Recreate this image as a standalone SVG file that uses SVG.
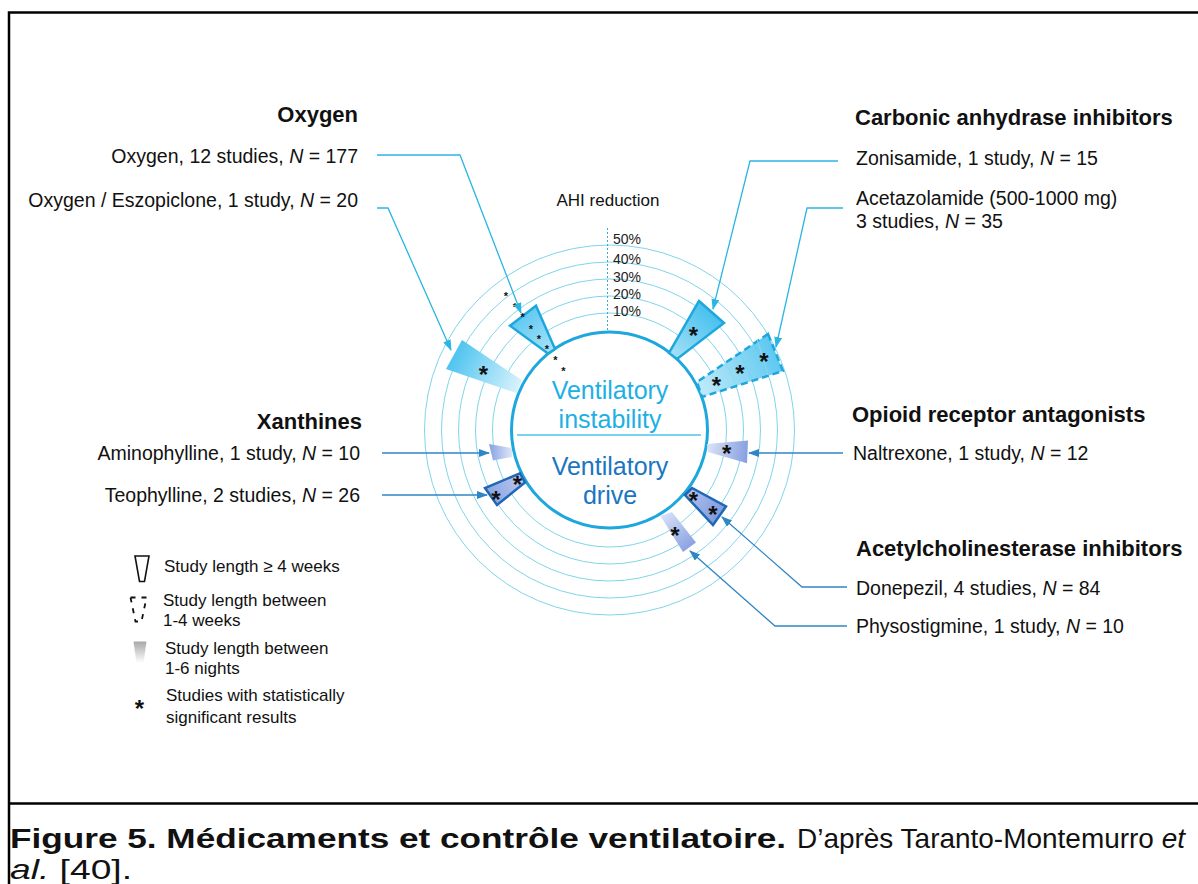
<svg xmlns="http://www.w3.org/2000/svg" width="1198" height="884" viewBox="0 0 1198 884">
<style>
text{font-family:"Liberation Sans",Arial,sans-serif;fill:#111}
.hd{font-size:22px;font-weight:bold}
.lb{font-size:19.5px}
.lg{font-size:17px}
.pc{font-size:14px;fill:#222}
.st{font-size:24px;font-weight:bold;text-anchor:middle}
.ts{font-size:11px;font-weight:bold;text-anchor:middle}
.ring{fill:none;stroke:#7fd5ec;stroke-width:1}
.cy{fill:none;stroke:#2bb5e2;stroke-width:1.3}
.bl{fill:none;stroke:#2f86c4;stroke-width:1.3}
.wc{stroke:#1ea7dd;stroke-width:2.5;stroke-linejoin:miter}
.wb{stroke:#2068b4;stroke-width:2.5;stroke-linejoin:miter}
.cap{font-size:27.5px}
</style>
<defs>
<marker id="ac" markerUnits="userSpaceOnUse" markerWidth="11" markerHeight="8" refX="10" refY="4" orient="auto"><path d="M0,0 L11,4 L0,8 z" fill="#2bb5e2"/></marker>
<marker id="ab" markerUnits="userSpaceOnUse" markerWidth="11" markerHeight="8" refX="10" refY="4" orient="auto"><path d="M0,0 L11,4 L0,8 z" fill="#2f86c4"/></marker>
<linearGradient id="gOx" gradientUnits="userSpaceOnUse" x1="551" y1="351" x2="523" y2="316"><stop offset="0" stop-color="#a6e2f8"/><stop offset="1" stop-color="#62caf2"/></linearGradient>
<linearGradient id="gEs" gradientUnits="userSpaceOnUse" x1="519" y1="387" x2="454" y2="355"><stop offset="0" stop-color="#d8f2fc"/><stop offset="1" stop-color="#4fc4f0"/></linearGradient>
<linearGradient id="gZo" gradientUnits="userSpaceOnUse" x1="673" y1="356" x2="711" y2="312"><stop offset="0" stop-color="#a3e0f7"/><stop offset="1" stop-color="#48c1ef"/></linearGradient>
<linearGradient id="gAc" gradientUnits="userSpaceOnUse" x1="700" y1="390" x2="776" y2="353"><stop offset="0" stop-color="#b8e8f9"/><stop offset="1" stop-color="#4cc2ef"/></linearGradient>
<linearGradient id="gNa" gradientUnits="userSpaceOnUse" x1="707" y1="448" x2="748" y2="452"><stop offset="0" stop-color="#dbe3f7"/><stop offset="1" stop-color="#869fe0"/></linearGradient>
<linearGradient id="gAm" gradientUnits="userSpaceOnUse" x1="512" y1="452" x2="490" y2="452"><stop offset="0" stop-color="#dfe6f8"/><stop offset="1" stop-color="#8aa5e3"/></linearGradient>
<linearGradient id="gTe" gradientUnits="userSpaceOnUse" x1="522" y1="478" x2="490" y2="497"><stop offset="0" stop-color="#b8c8f0"/><stop offset="1" stop-color="#8ba4e2"/></linearGradient>
<linearGradient id="gDo" gradientUnits="userSpaceOnUse" x1="688" y1="491" x2="720" y2="516"><stop offset="0" stop-color="#b0c2ee"/><stop offset="1" stop-color="#7f9ade"/></linearGradient>
<linearGradient id="gPh" gradientUnits="userSpaceOnUse" x1="666" y1="514" x2="690" y2="547"><stop offset="0" stop-color="#d5def6"/><stop offset="1" stop-color="#8ba3e2"/></linearGradient>
<linearGradient id="gLg" x1="0" y1="0" x2="0" y2="1"><stop offset="0" stop-color="#a8a8a8"/><stop offset="1" stop-color="#ffffff"/></linearGradient>
</defs>
<rect width="1198" height="884" fill="#fff"/>
<g id="frame">
<path d="M1200,12.5 H9 V884" fill="none" stroke="#000" stroke-width="2.5"/>
<line x1="8" y1="803.5" x2="1198" y2="803.5" stroke="#000" stroke-width="2.5"/>
</g>
<g id="rings">
<circle class="ring" cx="609.5" cy="430" r="117"/>
<circle class="ring" cx="609.5" cy="430" r="134"/>
<circle class="ring" cx="609.5" cy="430" r="151"/>
<circle class="ring" cx="609.5" cy="430" r="168"/>
<circle class="ring" cx="609.5" cy="430" r="185"/>
<line x1="607.5" y1="228" x2="607.5" y2="333" stroke="#3aa9d6" stroke-width="1" stroke-dasharray="2 2"/>
<text class="pc" x="613" y="244">50%</text>
<text class="pc" x="613" y="264">40%</text>
<text class="pc" x="613" y="282">30%</text>
<text class="pc" x="613" y="299">20%</text>
<text class="pc" x="613" y="316">10%</text>
<text x="608" y="206" style="font-size:17px" text-anchor="middle">AHI reduction</text>
</g>
<g id="center">
<circle cx="609.5" cy="430" r="98" fill="#fff" stroke="#1ea7dd" stroke-width="3"/>
<line x1="517" y1="435" x2="701" y2="435" stroke="#4fc3ea" stroke-width="1.5"/>
<text x="610" y="399" text-anchor="middle" style="font-size:25px;fill:#1db0e4">Ventilatory</text>
<text x="610" y="428" text-anchor="middle" style="font-size:25px;fill:#1db0e4">instability</text>
<text x="610" y="475" text-anchor="middle" style="font-size:25px;fill:#1a76c0">Ventilatory</text>
<text x="610" y="504" text-anchor="middle" style="font-size:25px;fill:#1a76c0">drive</text>
</g>
<g id="w-oxygen">
<polygon class="wc" points="510,325.7 536,305.8 555,349 548,353.5" fill="url(#gOx)"/>
<text class="ts" x="506" y="300">*</text>
<text class="ts" x="515" y="311">*</text>
<text class="ts" x="522.7" y="321">*</text>
<text class="ts" x="531" y="332.7">*</text>
<text class="ts" x="539" y="342.7">*</text>
<text class="ts" x="547" y="352.7">*</text>
<text class="ts" x="555.3" y="364.3">*</text>
<text class="ts" x="563.3" y="375">*</text>
</g>
<g id="w-eszopiclone">
<polygon points="462,340 446,369 517,393.3 521.7,380" fill="url(#gEs)"/>
<text class="st" x="483.3" y="383">*</text>
</g>
<g id="w-zonisamide">
<polygon class="wc" points="699,301 724,323 677,359 669,353" fill="url(#gZo)"/>
<text class="st" x="693.3" y="344">*</text>
</g>
<g id="w-acetazolamide">
<polygon class="wc" points="768,334 783,371 702,397 697,382" fill="url(#gAc)" fill-opacity="0.9" stroke-dasharray="7 4"/>
<line x1="757" y1="339" x2="768" y2="375" stroke="#8ad9ee" stroke-width="1"/>
<text class="st" x="716.5" y="394">*</text>
<text class="st" x="740" y="382">*</text>
<text class="st" x="764" y="370">*</text>
</g>
<g id="w-naltrexone">
<polygon points="748,440.5 747,463.3 708,452 707,444" fill="url(#gNa)"/>
<text class="st" x="726.7" y="461.5">*</text>
</g>
<g id="w-aminophylline">
<polygon points="489,444 493,460.5 512,457 512,448" fill="url(#gAm)"/>
</g>
<g id="w-teophylline">
<polygon class="wb" points="485,488 497,505 525,482.5 520,473.3" fill="url(#gTe)"/>
<text class="st" x="496" y="508">*</text>
<text class="st" x="517.3" y="493">*</text>
</g>
<g id="w-donepezil">
<polygon class="wb" points="685,495 692,488 726,506.5 713,525" fill="url(#gDo)"/>
<text class="st" x="693.5" y="508.5">*</text>
<text class="st" x="713" y="523">*</text>
</g>
<g id="w-physostigmine">
<polygon points="660.5,516 672,512 696,542.5 683,552" fill="url(#gPh)"/>
<text class="st" x="675" y="544">*</text>
</g>
<g id="connectors">
<path class="cy" d="M377,155 H460 L521,313" marker-end="url(#ac)"/>
<path class="cy" d="M377,208 H388 L451,350" marker-end="url(#ac)"/>
<path class="cy" d="M838,161 H750 L713,309" marker-end="url(#ac)"/>
<path class="cy" d="M843,208 H807 L776,347" marker-end="url(#ac)"/>
<path class="bl" d="M843,453 H749" marker-end="url(#ab)"/>
<path class="bl" d="M382,453 H489" marker-end="url(#ab)"/>
<path class="bl" d="M382,495 H487" marker-end="url(#ab)"/>
<path class="bl" d="M847,587 H802 L722,517" marker-end="url(#ab)"/>
<path class="bl" d="M847,626 H775 L690,551" marker-end="url(#ab)"/>
</g>
<g id="labels-left" text-anchor="end">
<text class="hd" x="358" y="122">Oxygen</text>
<text class="lb" x="358" y="163">Oxygen, 12 studies, <tspan font-style="italic">N</tspan> = 177</text>
<text class="lb" x="358" y="207">Oxygen / Eszopiclone, 1 study, <tspan font-style="italic">N</tspan> = 20</text>
<text class="hd" x="362" y="429">Xanthines</text>
<text class="lb" x="360" y="460">Aminophylline, 1 study, <tspan font-style="italic">N</tspan> = 10</text>
<text class="lb" x="360" y="502">Teophylline, 2 studies, <tspan font-style="italic">N</tspan> = 26</text>
</g>
<g id="labels-right">
<text class="hd" x="855" y="125">Carbonic anhydrase inhibitors</text>
<text class="lb" x="856" y="165">Zonisamide, 1 study, <tspan font-style="italic">N</tspan> = 15</text>
<text class="lb" x="856" y="205">Acetazolamide (500-1000 mg)</text>
<text class="lb" x="856" y="228">3 studies, <tspan font-style="italic">N</tspan> = 35</text>
<text class="hd" x="852" y="422">Opioid receptor antagonists</text>
<text class="lb" x="853" y="460">Naltrexone, 1 study, <tspan font-style="italic">N</tspan> = 12</text>
<text class="hd" x="856" y="556">Acetylcholinesterase inhibitors</text>
<text class="lb" x="856" y="595">Donepezil, 4 studies, <tspan font-style="italic">N</tspan> = 84</text>
<text class="lb" x="856" y="633">Physostigmine, 1 study, <tspan font-style="italic">N</tspan> = 10</text>
</g>
<g id="legend">
<polygon points="135,556 149,556 144.5,581.5 139.5,581.5" fill="none" stroke="#111" stroke-width="1.6"/>
<text class="lg" x="164" y="572">Study length ≥ 4 weeks</text>
<polygon points="130.5,597.5 146.5,597.5 141.5,621.5 135.5,621.5" fill="none" stroke="#111" stroke-width="1.8" stroke-dasharray="5 6"/>
<text class="lg" x="163" y="606">Study length between</text>
<text class="lg" x="163" y="626">1-4 weeks</text>
<polygon points="133.5,641.5 146.5,641.5 143.5,663 136.5,663" fill="url(#gLg)"/>
<text class="lg" x="165" y="654">Study length between</text>
<text class="lg" x="165" y="674">1-6 nights</text>
<text class="st" x="139.3" y="717">*</text>
<text class="lg" x="166" y="701">Studies with statistically</text>
<text class="lg" x="166" y="723">significant results</text>
</g>
<g id="caption">
<text class="cap" x="10" y="848" font-weight="bold" textLength="776" lengthAdjust="spacingAndGlyphs">Figure 5. Médicaments et contrôle ventilatoire.</text>
<text class="cap" x="797" y="848" textLength="388" lengthAdjust="spacingAndGlyphs">D’après Taranto-Montemurro <tspan font-style="italic">et</tspan></text>
<text class="cap" x="10" y="879" textLength="122" lengthAdjust="spacingAndGlyphs"><tspan font-style="italic">al.</tspan> [40].</text>
</g>
</svg>
